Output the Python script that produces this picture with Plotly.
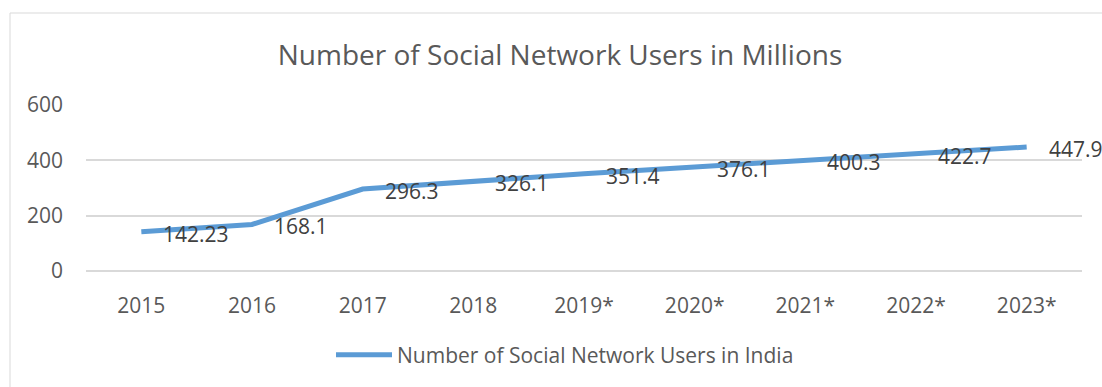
import plotly.graph_objects as go

years = ["2015", "2016", "2017", "2018", "2019*", "2020*", "2021*", "2022*", "2023*"]
users = [142.23, 168.1, 296.3, 326.1, 351.4, 376.1, 400.3, 422.7, 447.9]
labels = ["142.23", "168.1", "296.3", "326.1", "351.4", "376.1", "400.3", "422.7", "447.9"]
y_ticks = [0, 200, 400, 600]

FONT = "Open Sans"
TXT = "#595959"

fig = go.Figure()
fig.add_trace(go.Scatter(
    x=years, y=users, mode="lines",
    name="Number of Social Network Users in India",
    line=dict(color="#5B9BD5", width=5),
))

# data labels (category index positions on the category axis)
for i, (v, t) in enumerate(zip(users, labels)):
    fig.add_annotation(x=i, y=v, text=t, showarrow=False, xanchor="left",
                       yanchor="middle", xshift=20, yshift=-2,
                       font=dict(family=FONT, size=21, color="#404040"))

# chart border
L, R, T, B = 86, 1082, 105, 271
W, H = R - L, B - T
def px(x): return (x - L) / W
def py(y): return (B - y) / H
fig.add_shape(type="rect", xref="paper", yref="paper",
              x0=px(10), x1=px(1110), y0=py(13), y1=py(400),
              line=dict(color="#D9D9D9", width=1), layer="below")

fig.update_layout(
    width=1102, height=387,
    margin=dict(l=L, r=1102 - R, t=T, b=387 - B),
    paper_bgcolor="white", plot_bgcolor="white",
    title=dict(text="Number of Social Network Users in Millions",
               x=560 / 1102, xref="container", xanchor="center",
               y=1 - 55 / 387, yref="container", yanchor="middle",
               font=dict(family=FONT, size=28, color=TXT)),
    showlegend=True,
    legend=dict(orientation="h", x=px(331), xanchor="left",
                y=py(355), yanchor="middle", itemwidth=56,
                font=dict(family=FONT, size=21, color=TXT)),
    xaxis=dict(type="category", range=[-0.5, len(years) - 0.5],
               showgrid=False, showline=False, zeroline=False,
               tickfont=dict(family=FONT, size=21, color=TXT),
               ticklabelstandoff=20),
    yaxis=dict(range=[0, 600], tickvals=y_ticks, showgrid=True,
               gridcolor="#D9D9D9", gridwidth=1.5, zeroline=True,
               zerolinecolor="#D9D9D9", zerolinewidth=1.5, showline=False,
               tickfont=dict(family=FONT, size=21, color=TXT),
               ticklabelstandoff=22),
)

fig.write_html("out.html")
